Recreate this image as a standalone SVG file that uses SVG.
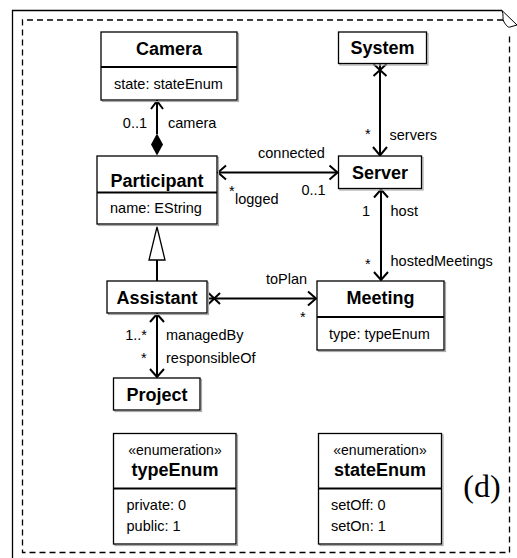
<svg xmlns="http://www.w3.org/2000/svg" width="517" height="558" viewBox="0 0 517 558">
<style>
.box{fill:#fff;stroke:#000;stroke-width:1.3}
.sh{fill:none;stroke:#aaa;stroke-width:1.2}
.div{stroke:#000;stroke-width:2}
.t{font-family:"Liberation Sans",Arial,sans-serif;font-size:18px;font-weight:bold;text-anchor:middle;fill:#000}
.a{font-family:"Liberation Sans",Arial,sans-serif;font-size:14.5px;fill:#000}
.st{font-family:"Liberation Sans",Arial,sans-serif;font-size:14px;text-anchor:middle;fill:#000}
.r{text-anchor:end}
.ln{fill:none;stroke:#000;stroke-width:2}
</style>
<rect width="517" height="558" fill="#fff"/>
<g id="frame">
<path d="M12.5,558 L12.5,10.5 L502,10.5" fill="none" stroke="#000" stroke-width="1.3"/>
<path d="M502,10.5 L517,25 M502,10.5 C504,15 502,19 504,22 C506,25 508,28 510,27 L517,25" fill="none" stroke="#000" stroke-width="1"/>
<path d="M503,20 L22.5,20 L22.5,552.5 L509.5,552.5 L509.5,33" fill="none" stroke="#000" stroke-width="1.3" stroke-dasharray="6 4"/>
</g>
<g id="connectors">
<!-- Camera - Participant -->
<line class="ln" x1="157" y1="101" x2="157" y2="134"/>
<path class="ln" d="M151,109 L157,101 L163,109"/>
<path d="M157,155.5 L163,144.5 L157,133.5 L151,144.5 Z" fill="#000"/>
<!-- System - Server -->
<line class="ln" x1="380" y1="64" x2="380" y2="155"/>
<path class="ln" d="M373.5,64 L386.5,76 M386.5,64 L373.5,76" stroke-width="1.5"/>
<path class="ln" d="M373,147 L380,155.5 L387,147"/>
<!-- connected -->
<line class="ln" x1="218" y1="172.5" x2="337.5" y2="172.5"/>
<path class="ln" d="M226,165.5 L218,172.5 L226,179.5"/>
<path class="ln" d="M329.5,165.5 L337.5,172.5 L329.5,179.5"/>
<!-- Server - Meeting -->
<line class="ln" x1="381" y1="189.5" x2="381" y2="280"/>
<path class="ln" d="M374,197.5 L381,189.5 L388,197.5"/>
<path class="ln" d="M374,272 L381,280 L388,272"/>
<!-- Generalization -->
<line class="ln" x1="157" y1="260" x2="157" y2="281"/>
<path d="M157,227 L165,260 L149,260 Z" fill="#fff" stroke="#000" stroke-width="1.3"/>
<!-- toPlan -->
<line class="ln" x1="208" y1="298.5" x2="316" y2="298.5"/>
<path class="ln" d="M208.5,293 L220,304 M220,293 L208.5,304" stroke-width="1.5"/>
<path class="ln" d="M308,291.5 L316,298.5 L308,305.5"/>
<!-- Assistant - Project -->
<line class="ln" x1="157" y1="314" x2="157" y2="377"/>
<path class="ln" d="M150,322 L157,314 L164,322"/>
<path class="ln" d="M150,369 L157,377 L164,369"/>
<!-- labels -->
<text class="a r" x="147" y="128">0..1</text>
<text class="a" x="168" y="128">camera</text>
<text class="a" x="365" y="139">*</text>
<text class="a" x="389.5" y="140">servers</text>
<text class="a" x="258" y="158">connected</text>
<text class="a" x="229" y="196">*</text>
<text class="a" x="235" y="204">logged</text>
<text class="a" x="301.5" y="195">0..1</text>
<text class="a" x="362" y="216">1</text>
<text class="a" x="390.5" y="216">host</text>
<text class="a" x="365" y="269">*</text>
<text class="a" x="390.5" y="266">hostedMeetings</text>
<text class="a" x="266" y="283.5">toPlan</text>
<text class="a" x="300" y="322">*</text>
<text class="a r" x="147" y="340">1..*</text>
<text class="a" x="166" y="340">managedBy</text>
<text class="a" x="141" y="363">*</text>
<text class="a" x="166" y="363">responsibleOf</text>
</g>
<g id="Camera">
<rect class="sh" x="102.5" y="33.5" width="136" height="68"/>
<rect class="box" x="101" y="32" width="136" height="68"/>
<line class="div" x1="101" y1="67" x2="237" y2="67"/>
<text class="t" x="169" y="55">Camera</text>
<text class="a" x="114" y="89">state: stateEnum</text>
</g>
<g id="Participant">
<rect class="sh" x="98.5" y="157.5" width="120" height="68"/>
<rect class="box" x="97" y="156" width="120" height="68"/>
<line class="div" x1="97" y1="192.5" x2="217" y2="192.5"/>
<text class="t" x="157" y="187">Participant</text>
<text class="a" x="110" y="213">name: EString</text>
</g>
<g id="Assistant">
<rect class="sh" x="108.5" y="282.5" width="100" height="32"/>
<rect class="box" x="107" y="281" width="100" height="32"/>
<text class="t" x="157" y="304">Assistant</text>
</g>
<g id="Project">
<rect class="sh" x="115" y="379.5" width="86.5" height="32"/>
<rect class="box" x="113.5" y="378" width="86.5" height="32"/>
<text class="t" x="157" y="401">Project</text>
</g>
<g id="System">
<rect class="sh" x="340" y="33.5" width="88" height="31.5"/>
<rect class="box" x="338.5" y="32" width="88" height="31.5"/>
<text class="t" x="382.5" y="53.5">System</text>
</g>
<g id="Server">
<rect class="sh" x="340" y="157.5" width="83" height="32.5"/>
<rect class="box" x="338.5" y="156" width="83" height="32.5"/>
<text class="t" x="380" y="178.5">Server</text>
</g>
<g id="Meeting">
<rect class="sh" x="318.5" y="282.5" width="127" height="69"/>
<rect class="box" x="317" y="281" width="127" height="69"/>
<line class="div" x1="317" y1="317" x2="444" y2="317"/>
<text class="t" x="380.5" y="304">Meeting</text>
<text class="a" x="329" y="338.5">type: typeEnum</text>
</g>
<g id="typeEnum">
<rect class="sh" x="115" y="435" width="122.5" height="110.5"/>
<rect class="box" x="113.5" y="433.5" width="122.5" height="110.5"/>
<line class="div" x1="113.5" y1="488.5" x2="236" y2="488.5"/>
<text class="st" x="175" y="455">«enumeration»</text>
<text class="t" x="175" y="476">typeEnum</text>
<text class="a" x="126.5" y="510">private: 0</text>
<text class="a" x="126.5" y="531">public: 1</text>
</g>
<g id="stateEnum">
<rect class="sh" x="320" y="435" width="123" height="110.5"/>
<rect class="box" x="318.5" y="433.5" width="123" height="110.5"/>
<line class="div" x1="318.5" y1="488.5" x2="441.5" y2="488.5"/>
<text class="st" x="380" y="455">«enumeration»</text>
<text class="t" x="380" y="476">stateEnum</text>
<text class="a" x="331" y="510">setOff: 0</text>
<text class="a" x="331" y="531">setOn: 1</text>
</g>
<text x="482" y="497" font-family="'Liberation Serif','Times New Roman',serif" font-size="32" text-anchor="middle">(d)</text>
</svg>
